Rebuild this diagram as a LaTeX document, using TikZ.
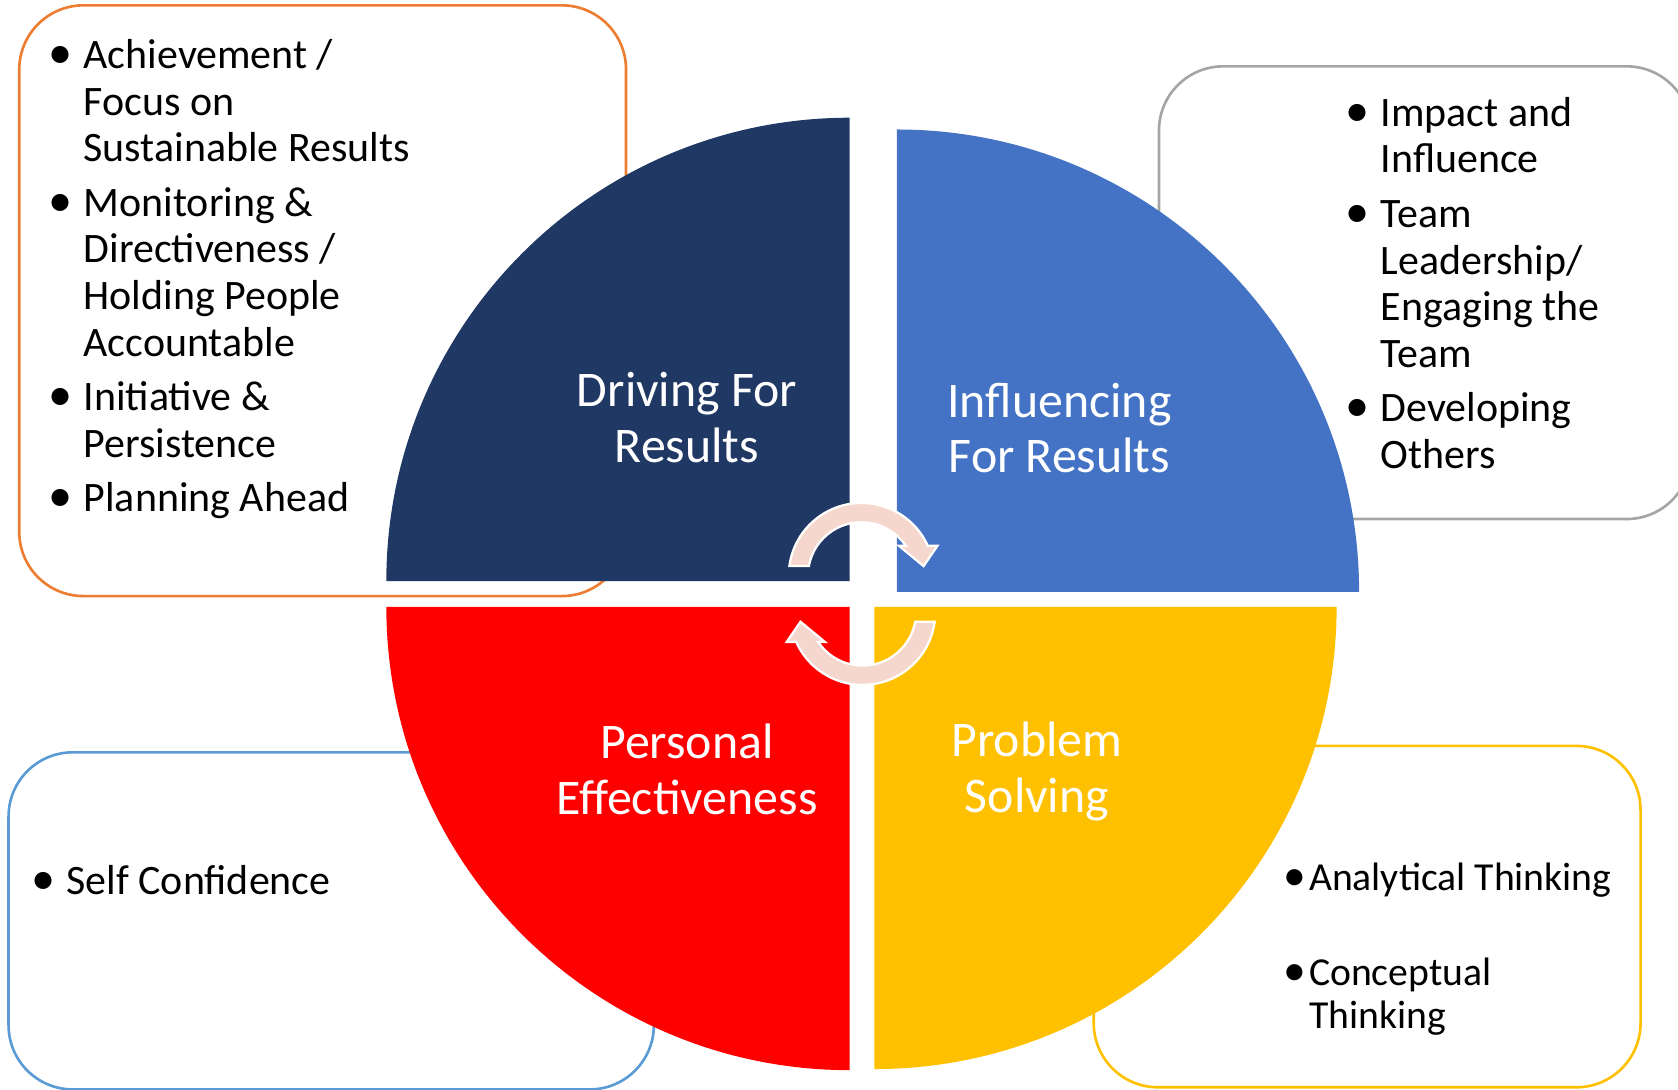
\documentclass[tikz,border=0pt]{standalone}
\usepackage{fontspec}
\setmainfont{Carlito}
\usetikzlibrary{calc}
\usetikzlibrary{positioning}

\definecolor{navy}{HTML}{203864}
\definecolor{midblue}{HTML}{4472C4}
\definecolor{gold}{HTML}{FFC000}
\definecolor{boxorange}{HTML}{ED7D31}
\definecolor{boxgray}{HTML}{A5A5A5}
\definecolor{boxblue}{HTML}{5B9BD5}
\definecolor{turnpink}{RGB}{246,215,205}

\newcommand\blt{\scalebox{1.15}{\textbullet}}

\begin{document}
\begin{tikzpicture}[x=0.02cm,y=0.02cm,
box/.style={line width=1.4pt,rounded corners=1.2cm},
label/.style={text=white,align=center,font=\fontsize{26.5}{29.5}\selectfont},
list/.style={anchor=base west,inner sep=0pt,font=\fontsize{22.3}{24.8}\selectfont},
turn/.style={fill=turnpink,draw=white,line width=1.2pt}]

\useasboundingbox (0,0) rectangle (1568,1018);

% frames behind the wheel
\draw[box,boxorange] (18,461) rectangle (585,1013);
\draw[box,boxgray] (1083,533) rectangle (1580,956);
\draw[box,boxblue] (8,0) rectangle (611,315);
\draw[box,gold] (1022,2) rectangle (1533,321);

\coordinate (dc) at (794,475);
\coordinate (ic) at (838,465);
\coordinate (pc) at (794,451);
\coordinate (sc) at (817,451);

\fill[navy] (dc) -- ++(0,433) arc[start angle=90,end angle=180,radius=433] -- cycle;
\fill[midblue] (ic) -- ++(0,432) arc[start angle=90,end angle=0,radius=432] -- cycle;
\fill[red] (pc) -- ++(-433,0) arc[start angle=180,end angle=270,radius=433] -- cycle;
\fill[gold] (sc) -- ++(0,-432) arc[start angle=270,end angle=360,radius=432] -- cycle;

\coordinate (up turn) at (805,480);
\coordinate (low turn) at (806,446);
\foreach \c/\r in {up turn/0,low turn/180}
  \draw[turn,shift={(\c)},rotate=\r] (172.4:68) arc[start angle=172.4,end angle=24.3,radius=68]
    -- (71,28) -- (58,9) -- (35,28) -- (34:50) arc[start angle=34,end angle=169.6,radius=50] -- cycle;

\node[label] (drive) at ($(dc)+(-152,153)$) {Driving For\\Results};
\node[label] (influence) at ($(ic)+(152,153)$) {Influencing\\For Results};
\node[label] (personal) at ($(pc)+(-152,-152)$) {Personal\\Effectiveness};
\node[label] (problem) at ($(sc)+(152,-154)$) {Problem\\Solving};

\node[list] (drive list) at (45,954) {\begin{tabular}[t]{@{}p{18.7pt}@{}l@{}}
\blt & Achievement /\\
 & Focus on\\
 & Sustainable Results\\[4.2pt]
\blt & Monitoring \&\\
 & Directiveness /\\
 & Holding People\\
 & Accountable\\[4.2pt]
\blt & Initiative \&\\
 & Persistence\\[4.2pt]
\blt & Planning Ahead
\end{tabular}};

\node[list] (influence list) at (1257,900) {\begin{tabular}[t]{@{}p{18.7pt}@{}l@{}}
\blt & Impact and\\
 & Influence\\[4.2pt]
\blt & Team\\
 & Leadership/\\
 & Engaging the\\
 & Team\\[4.2pt]
\blt & Developing\\
 & Others
\end{tabular}};

\node[list] (personal list) at (29,182) {\begin{tabular}[t]{@{}p{18.7pt}@{}l@{}}
\blt & Self Confidence
\end{tabular}};

\node[list,font=\fontsize{21.1}{22.7}\selectfont] (problem list) at (1199,186) {\begin{tabular}[t]{@{}p{13.6pt}@{}l@{}}
\blt & Analytical Thinking\\[27.8pt]
\blt & Conceptual\\
 & Thinking
\end{tabular}};
\end{tikzpicture}
\end{document}
